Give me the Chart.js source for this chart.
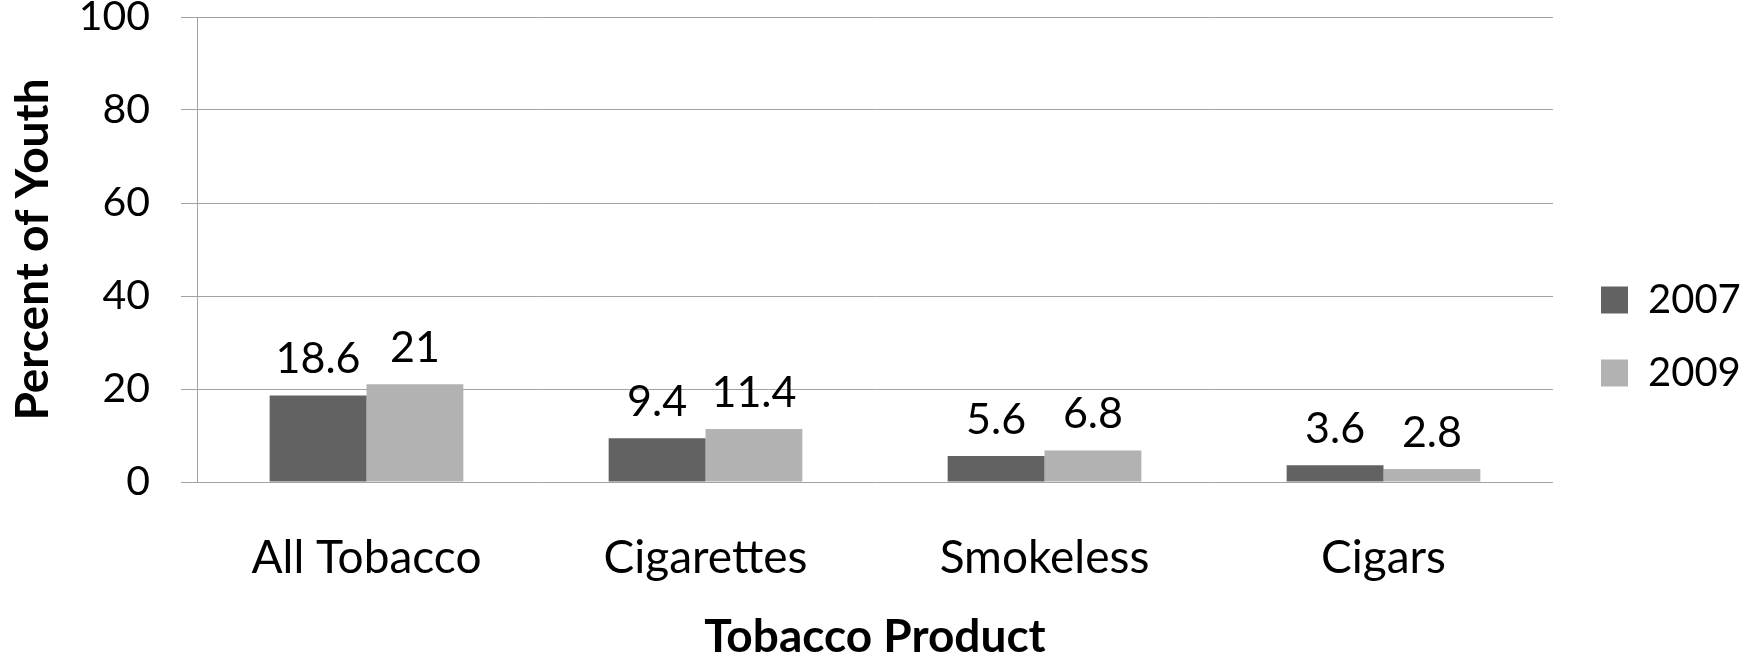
<!DOCTYPE html>
<html>
<head>
<meta charset="utf-8">
<script src="https://cdn.jsdelivr.net/npm/chart.js@4/dist/chart.umd.min.js"></script>
<style>
  html, body { margin: 0; padding: 0; background: #ffffff; }
  #wrap { width: 1754px; height: 656px; position: relative; }
</style>
</head>
<body>
<div id="wrap"><canvas id="c" width="1754" height="656"></canvas></div>
<script>
const categories = ["All Tobacco", "Cigarettes", "Smokeless", "Cigars"];
const seriesNames = ["2007", "2009"];
const values2007 = [18.6, 9.4, 5.6, 3.6];
const values2009 = [21, 11.4, 6.8, 2.8];
const yTicks = [0, 20, 40, 60, 80, 100];

const FONT = "Lato, 'Open Sans', sans-serif";
const GRID = "#a3a3a3";

const dataLabels = {
  id: "dataLabels",
  afterDatasetsDraw(chart) {
    const ctx = chart.ctx;
    ctx.save();
    ctx.font = "43px " + FONT;
    ctx.fillStyle = "#000";
    ctx.textAlign = "center";
    ctx.textBaseline = "middle";
    chart.data.datasets.forEach((ds, i) => {
      const meta = chart.getDatasetMeta(i);
      meta.data.forEach((el, j) => {
        ctx.fillText(String(ds.data[j]), el.x, el.y - 36);
      });
    });
    ctx.restore();
  }
};

new Chart(document.getElementById("c"), {
  type: "bar",
  data: {
    labels: categories,
    datasets: [
      { label: seriesNames[0], data: values2007, backgroundColor: "#626262", borderWidth: 0,
        categoryPercentage: 0.5714, barPercentage: 1 },
      { label: seriesNames[1], data: values2009, backgroundColor: "#b2b2b2", borderWidth: 0,
        categoryPercentage: 0.5714, barPercentage: 1 }
    ]
  },
  options: {
    responsive: false,
    animation: false,
    devicePixelRatio: 1,
    layout: { padding: { top: 17, right: 6, bottom: 0, left: 0 } },
    plugins: {
      tooltip: { enabled: false },
      legend: {
        position: "right",
        align: "center",
        maxWidth: 180,
        labels: {
          boxWidth: 27,
          boxHeight: 27,
          padding: 33,
          color: "#000",
          font: { family: FONT, size: 40 }
        }
      }
    },
    scales: {
      x: {
        grid: { display: false, drawTicks: false },
        border: { display: false },
        ticks: { color: "#000", padding: 49, font: { family: FONT, size: 46 }, maxRotation: 0 },
        title: { display: true, text: "Tobacco Product", color: "#000",
                 font: { family: FONT, size: 46, weight: "bold", lineHeight: 1 }, padding: { top: 0, bottom: -4 } },
        afterFit(scale) { scale.height = 174; scale.paddingLeft = 0; scale.paddingRight = 0; }
      },
      y: {
        min: 0, max: 100,
        afterBuildTicks(scale) { scale.ticks = yTicks.map(v => ({ value: v })); },
        grid: { color: GRID, lineWidth: 1, tickLength: 16, drawTicks: true },
        border: { display: true, color: GRID, width: 1 },
        ticks: { color: "#000", padding: 31, font: { family: FONT, size: 41 } },
        title: { display: true, text: "Percent of Youth", color: "#000",
                 font: { family: FONT, size: 46, weight: "bold", lineHeight: 1 }, padding: { top: 10, bottom: 0 } },
        afterFit(scale) { scale.width = 197; scale.paddingTop = 0; scale.paddingBottom = 0; }
      },
      gap: {
        type: "linear",
        position: "right",
        display: true,
        grid: { display: false, drawTicks: false },
        border: { display: false },
        ticks: { display: false },
        afterFit(scale) { scale.width = 15; scale.paddingTop = 0; scale.paddingBottom = 0; }
      }
    }
  },
  plugins: [dataLabels]
});
</script>
</body>
</html>
